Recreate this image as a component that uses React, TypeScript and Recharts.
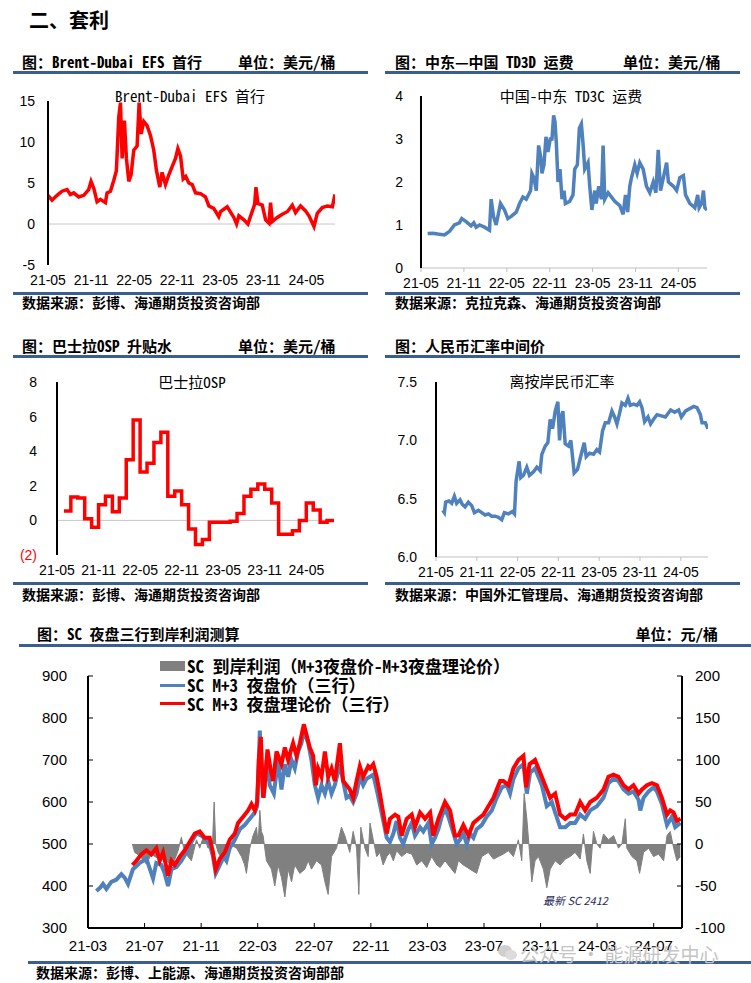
import React from "react";
import { LineChart, Line, XAxis, YAxis, ReferenceLine, ComposedChart, Area } from "recharts";

const HEAD = '"Noto Sans Mono CJK SC", "Noto Sans CJK SC", sans-serif';
const CJK = '"Noto Sans CJK SC", sans-serif';
const NUM = '"Liberation Sans", Arial, sans-serif';
const RULE = "#3A5F8F";
const BLUE = "#4F81BD";
const RED = "#FF0000";
const GRAY = "#808080";

// small charts: x = months since 2021-05
const smallTicks = [0, 6, 12, 18, 24, 30, 36];
const smallTickLabels = ["21-05", "21-11", "22-05", "22-11", "23-05", "23-11", "24-05"];

// big chart: x = months since 2021-03
const bigTicks = [0, 4, 8, 12, 16, 20, 24, 28, 32, 36, 40];
const bigTickLabels = ["21-03", "21-07", "21-11", "22-03", "22-07", "22-11", "23-03", "23-07", "23-11", "24-03", "24-07"];

// Brent-Dubai EFS 首行 (USD/bbl)
const efs: [number, number][] = [
  [0, 3.5], [0.56, 2.9], [1.26, 3.5], [1.95, 4.0], [2.65, 4.2], [3.12, 3.6], [3.58, 3.8], [4.28, 3.3], [4.98, 3.5],
  [5.67, 4.2], [6.0, 5.2], [6.4, 4.3], [6.84, 2.7], [7.3, 3.0], [8.0, 2.6], [8.23, 3.8], [8.7, 4.0], [9.16, 5.3],
  [9.53, 6.5], [9.86, 13], [10.1, 14.8], [10.33, 8], [10.65, 12.6], [10.93, 8], [11.26, 5.2], [11.58, 6], [11.95, 9],
  [12.42, 9.5], [12.7, 14.8], [12.98, 11], [13.35, 12.5], [13.81, 12], [14.28, 10.8], [14.74, 9.0], [15.12, 6.5],
  [15.58, 4.5], [15.9, 6.3], [16.37, 4.8], [16.84, 6.0], [17.3, 7], [17.77, 8], [18.1, 9.2], [18.47, 8.3], [18.84, 5.5],
  [19.2, 5.8], [19.63, 5.0], [20.1, 4.8], [20.56, 3.8], [21.26, 3.7], [21.95, 3.3], [22.42, 2.2], [23.1, 1.9],
  [23.8, 0.9], [24.05, 1.5], [24.98, 2.1], [25.9, 0.8], [26.28, 0], [26.6, 1.0], [27.3, 0.5], [27.86, 0], [28.33, 1.2],
  [28.8, 2.4], [28.98, 4.5], [29.26, 2.5], [29.86, 2.3], [30.33, 0.5], [30.8, 0.1], [31.02, 2.6], [31.26, 0.3],
  [31.95, 0.8], [32.65, 1.2], [33.35, 1.5], [34.05, 2.3], [34.5, 1.4], [35.2, 2.2], [35.9, 1.6], [36.37, 1.0],
  [37.07, -0.3], [37.53, 1.3], [38.23, 2.0], [38.93, 2.2], [39.63, 2.1], [40.0, 3.6],
];

// TD3C freight
const td3c: [number, number][] = [
  [0.93, 0.8], [1.64, 0.81], [2.34, 0.79], [3.27, 0.77], [3.97, 0.85], [4.67, 1.0], [5.37, 1.05], [5.7, 1.15],
  [6.31, 1.08], [7.0, 0.98], [7.38, 1.05], [7.71, 0.95], [8.18, 1.0], [8.88, 0.95], [9.58, 0.88], [9.81, 1.6],
  [10.14, 1.2], [10.51, 1.0], [11.12, 1.5], [11.68, 1.35], [12.15, 1.15], [12.62, 1.2], [13.32, 1.3], [13.79, 1.5],
  [14.25, 1.65], [14.72, 1.6], [15.33, 1.8], [15.51, 2.2], [15.79, 2.1], [16.12, 1.8], [16.45, 2.85], [16.73, 2.6],
  [16.92, 2.2], [17.2, 2.4], [17.48, 3.05], [17.76, 2.7], [18.08, 3.0], [18.32, 3.0], [18.55, 3.55], [18.74, 3.4],
  [18.93, 2.9], [19.16, 2.0], [19.44, 2.3], [19.72, 1.6], [20.0, 1.8], [20.19, 1.5], [20.79, 1.55], [21.26, 1.7],
  [21.5, 2.3], [21.87, 2.4], [22.15, 3.25], [22.43, 3.35], [22.66, 2.9], [22.9, 2.3], [23.36, 2.45], [23.6, 1.9],
  [23.9, 1.35], [24.3, 1.8], [24.5, 1.5], [24.86, 1.9], [25.23, 1.6], [25.47, 2.85], [25.7, 1.6], [26.17, 1.75],
  [26.64, 1.65], [27.1, 1.55], [27.8, 1.45], [28.27, 1.25], [28.6, 1.7], [28.9, 1.3], [29.2, 1.9], [29.44, 2.1],
  [29.9, 2.4], [30.23, 2.2], [30.6, 2.45], [31.07, 2.3], [31.54, 1.9], [32.0, 1.75], [32.48, 2.0], [32.85, 1.75],
  [33.18, 2.75], [33.5, 1.8], [33.9, 2.1], [34.35, 2.45], [34.6, 2.0], [35.3, 1.9], [35.75, 1.8], [36.2, 2.1],
  [36.7, 2.15], [37.0, 1.7], [37.6, 1.5], [38.3, 1.4], [38.7, 1.7], [38.9, 1.4], [39.25, 1.5], [39.5, 1.8],
  [39.7, 1.4], [40.0, 1.35],
];

// Basrah OSP, monthly from 2021-06 (last entry closes the final step)
const osp = [
  0.55, 1.35, 1.3, 0.1, -0.4, 0.9, 1.4, 0.5, 1.3, 3.5, 5.8, 2.8, 3.3, 4.5, 5.1, 1.4, 1.7, 0.9, -0.5, -1.4,
  -1.1, -0.1, -0.1, -0.1, -0.05, 0.4, 1.4, 1.8, 2.1, 1.8, 1.0, -0.8, -0.8, -0.6, 0.0, 1.0, 0.6, -0.1, 0.0, 0.0,
];

// offshore RMB
const cnh: [number, number][] = [
  [1.0, 6.4], [1.23, 6.38], [1.42, 6.47], [1.91, 6.48], [2.31, 6.46], [2.7, 6.52], [3.04, 6.46], [3.53, 6.49],
  [3.88, 6.45], [4.27, 6.43], [4.76, 6.47], [5.25, 6.44], [5.65, 6.38], [6.24, 6.4], [6.73, 6.38], [7.22, 6.36],
  [7.71, 6.37], [8.2, 6.35], [8.69, 6.35], [9.18, 6.34], [9.67, 6.32], [10.06, 6.38], [10.65, 6.37], [11.24, 6.39],
  [11.54, 6.37], [11.78, 6.65], [12.22, 6.82], [12.47, 6.68], [12.86, 6.7], [13.35, 6.77], [13.75, 6.7],
  [14.34, 6.73], [14.83, 6.77], [15.32, 6.74], [15.56, 6.88], [16.06, 6.95], [16.45, 6.98], [16.79, 7.18],
  [17.14, 7.1], [17.53, 7.25], [17.92, 7.33], [18.17, 7.0], [18.41, 7.2], [18.66, 7.25], [19.0, 6.97], [19.49, 6.95],
  [19.83, 7.0], [20.32, 6.72], [20.81, 6.75], [21.31, 6.87], [21.8, 6.98], [22.09, 6.86], [22.58, 6.89],
  [23.17, 6.88], [23.66, 6.92], [24.05, 6.9], [24.49, 7.08], [24.89, 7.15], [25.38, 7.15], [25.87, 7.25],
  [26.26, 7.2], [26.61, 7.14], [26.95, 7.22], [27.34, 7.32], [27.84, 7.3], [28.23, 7.36], [28.57, 7.3],
  [29.06, 7.31], [29.55, 7.3], [29.95, 7.33], [30.29, 7.28], [30.68, 7.16], [31.17, 7.2], [31.56, 7.14],
  [32.0, 7.18], [32.5, 7.22], [33.14, 7.21], [33.73, 7.2], [34.51, 7.26], [35.1, 7.24], [35.69, 7.26], [36.08, 7.2],
  [36.67, 7.25], [37.26, 7.27], [37.9, 7.29], [38.39, 7.28], [38.88, 7.22], [39.12, 7.15], [39.61, 7.15], [40.0, 7.1],
];

// SC M+3 夜盘价 (三行), 元/桶
const scPrice: [number, number][] = [
  [0.59, 388], [0.83, 395], [1.06, 405], [1.3, 393], [1.65, 410], [2.0, 415], [2.36, 428], [2.59, 420], [2.83, 405],
  [3.18, 440], [3.66, 455], [4.13, 465], [4.6, 418], [4.83, 455], [5.19, 450], [5.42, 430], [5.66, 400], [5.9, 440],
  [6.25, 445], [6.6, 460], [6.96, 480], [7.31, 505], [7.67, 525], [8.02, 520], [8.37, 510], [8.6, 500], [8.84, 470],
  [9.03, 430], [9.32, 450], [9.6, 470], [9.79, 460], [10.02, 490], [10.38, 510], [10.73, 535], [11.08, 545],
  [11.44, 560], [11.79, 575], [11.96, 590], [12.15, 770], [12.26, 660], [12.43, 610], [12.62, 700], [12.85, 640],
  [13.14, 620], [13.44, 700], [13.68, 630], [13.92, 690], [14.15, 660], [14.39, 700], [14.62, 680], [14.86, 720],
  [15.09, 740], [15.26, 770], [15.57, 740], [15.8, 700], [16.04, 640], [16.27, 610], [16.51, 640], [16.75, 620],
  [16.98, 650], [17.22, 620], [17.45, 640], [17.81, 690], [18.04, 650], [18.28, 610], [18.51, 615], [18.75, 600],
  [18.99, 620], [19.22, 660], [19.46, 640], [19.69, 655], [19.93, 660], [20.17, 665], [20.41, 630], [20.76, 575],
  [21.12, 515], [21.35, 505], [21.59, 525], [21.82, 555], [22.06, 515], [22.29, 500], [22.65, 535], [22.89, 550],
  [23.12, 520], [23.48, 540], [23.71, 530], [24.07, 550], [24.3, 500], [24.54, 515], [24.77, 535], [25.01, 565],
  [25.24, 585], [25.48, 565], [25.71, 540], [26.07, 500], [26.3, 510], [26.54, 525], [26.78, 500], [27.01, 525],
  [27.25, 515], [27.48, 535], [27.84, 545], [28.19, 565], [28.55, 580], [28.9, 610], [29.26, 635], [29.61, 640],
  [29.84, 620], [30.08, 655], [30.43, 680], [30.79, 690], [31.03, 620], [31.26, 670], [31.61, 680], [31.85, 660],
  [32.09, 640], [32.44, 590], [32.79, 600], [33.03, 575], [33.38, 540], [33.74, 540], [34.09, 550], [34.44, 550],
  [34.8, 570], [35.15, 560], [35.51, 580], [35.98, 590], [36.45, 610], [36.8, 645], [37.16, 655], [37.51, 650],
  [37.87, 630], [38.22, 620], [38.57, 625], [38.93, 605], [39.05, 580], [39.28, 610], [39.64, 625], [39.99, 635],
  [40.23, 625], [40.58, 595], [40.94, 545], [41.29, 565], [41.52, 540], [41.9, 550],
];

// SC M+3 夜盘理论价 (三行)
const scTheory: [number, number][] = [
  [3.14, 450], [3.42, 460], [3.77, 475], [4.13, 485], [4.48, 475], [4.83, 490], [5.07, 460], [5.31, 480], [5.54, 445],
  [5.66, 425], [5.9, 460], [6.13, 450], [6.49, 470], [6.84, 485], [7.19, 505], [7.55, 525], [7.9, 530], [8.25, 515],
  [8.6, 515], [8.84, 480], [9.03, 440], [9.32, 465], [9.67, 480], [10.02, 510], [10.38, 525], [10.61, 550],
  [10.97, 565], [11.32, 580], [11.56, 595], [11.79, 580], [11.96, 600], [12.08, 700], [12.22, 755], [12.38, 610],
  [12.5, 640], [12.69, 725], [12.9, 680], [13.09, 650], [13.33, 720], [13.68, 690], [13.92, 730], [14.15, 700],
  [14.5, 740], [14.74, 710], [14.98, 740], [15.26, 785], [15.45, 760], [15.68, 730], [15.92, 710], [16.11, 640],
  [16.27, 680], [16.51, 660], [16.75, 720], [16.98, 660], [17.22, 680], [17.45, 650], [17.81, 740], [18.04, 650],
  [18.28, 640], [18.51, 630], [18.75, 610], [18.99, 650], [19.22, 685], [19.46, 660], [19.81, 685], [19.94, 680],
  [20.17, 690], [20.41, 660], [20.64, 620], [21.12, 525], [21.35, 560], [21.71, 570], [21.94, 565], [22.18, 520],
  [22.53, 560], [22.89, 570], [23.12, 540], [23.48, 575], [23.83, 560], [24.19, 575], [24.42, 520], [24.77, 560],
  [25.24, 600], [25.6, 580], [25.95, 520], [26.19, 520], [26.54, 545], [26.9, 520], [27.25, 550], [27.6, 560],
  [27.96, 570], [28.31, 590], [28.67, 610], [29.14, 650], [29.37, 650], [29.73, 640], [30.08, 680], [30.43, 700],
  [30.79, 710], [30.98, 635], [31.22, 690], [31.61, 700], [31.97, 670], [32.32, 640], [32.68, 610], [33.03, 620],
  [33.38, 570], [33.74, 560], [34.09, 570], [34.44, 570], [34.8, 600], [35.15, 580], [35.51, 600], [35.98, 610],
  [36.45, 630], [36.8, 660], [37.16, 665], [37.51, 660], [37.87, 640], [38.22, 630], [38.57, 640], [38.93, 620],
  [39.17, 630], [39.52, 640], [39.87, 645], [40.23, 640], [40.58, 610], [40.94, 570], [41.17, 580], [41.41, 575],
  [41.64, 555], [41.9, 560],
];

// SC 到岸利润 (right axis)
const scProfit: [number, number][] = [
  [3.14, 0], [3.3, -10], [3.66, -14], [4.13, -24], [4.48, -12], [4.83, -16], [5.31, -10], [5.66, -22], [6.01, -24],
  [6.37, -8], [6.6, 8], [6.84, -10], [7.31, -20], [7.67, 5], [7.9, -5], [8.18, 10], [8.49, -5], [8.8, 0], [8.92, 50],
  [9.03, 0], [9.2, -10], [9.55, -20], [10.02, 0], [10.5, -5], [10.85, -15], [11.08, -25], [11.2, -35], [11.44, -5],
  [11.67, 10], [11.91, 20], [12.03, 0], [12.15, 40], [12.26, 15], [12.38, 10], [12.62, -20], [12.97, -30],
  [13.21, -50], [13.44, -25], [13.68, -40], [13.92, -63], [14.15, -30], [14.39, -45], [14.62, -25], [14.98, -35],
  [15.33, -30], [15.57, -20], [15.8, -30], [16.16, -20], [16.51, -25], [16.75, -45], [16.98, -60], [17.22, -15],
  [17.57, -5], [17.92, 20], [18.16, 10], [18.51, -10], [18.75, 15], [18.99, -5], [19.15, -60], [19.29, 20],
  [19.58, -5], [19.81, -15], [19.94, 25], [20.17, 5], [20.41, -15], [20.64, -10], [20.87, -25], [21.12, -15],
  [21.35, -10], [21.59, -20], [21.82, -8], [22.18, -15], [22.53, -10], [22.89, -12], [23.24, -25], [23.6, -20],
  [23.95, -28], [24.3, -15], [24.66, -25], [24.9, -28], [25.24, -20], [25.71, -30], [25.95, -35], [26.19, -20],
  [26.54, -25], [27.01, -30], [27.48, -35], [27.84, -15], [28.31, -10], [28.67, -18], [29.02, -15], [29.37, -12],
  [29.73, -8], [30.08, -15], [30.43, 5], [30.67, -20], [30.84, 60], [31.03, 30], [31.22, -10], [31.38, -45],
  [31.61, -20], [31.85, -15], [32.2, -30], [32.44, -52], [32.68, -30], [33.03, -20], [33.38, -25], [33.74, -18],
  [34.09, -15], [34.44, -10], [34.8, -18], [35.03, 12], [35.27, -20], [35.51, -35], [35.74, 15], [35.98, 0],
  [36.21, -5], [36.45, 12], [36.8, 5], [37.16, 10], [37.51, -5], [37.75, 0], [37.99, 30], [38.1, -5], [38.46, -15],
  [38.81, -20], [39.0, -35], [39.28, -10], [39.64, -5], [39.99, -15], [40.34, -12], [40.7, -20], [40.94, 10],
  [41.17, 15], [41.41, -5], [41.64, -20], [41.88, -15],
];

const rows = (pts: [number, number][]) => pts.map(([t, v]) => ({ t, v }));

function Txt({ x, y, size, children, color = "#000", bold = false, font = CJK, anchor = "start", italic = false }: any) {
  const tf = anchor === "middle" ? "translateX(-50%)" : anchor === "end" ? "translateX(-100%)" : undefined;
  return (
    <div style={{ position: "absolute", left: x, top: y - size * 0.7, height: size * 1.4, lineHeight: `${size * 1.4}px`, fontSize: size, fontFamily: font, fontWeight: bold ? 700 : 400, fontStyle: italic ? "italic" : "normal", color, whiteSpace: "nowrap", transform: tf }}>
      {children}
    </div>
  );
}

function Rule({ x, y, w }: { x: number; y: number; w: number }) {
  return <div style={{ position: "absolute", left: x, top: y - 1.5, width: w, height: 3, background: RULE }} />;
}

function SmallChart({ left, top, width, height, plotLeft, plotTop, plotRight, data, yDomain, yTicks, color, step, zeroLine, grayAxis, labelGap, yFmt, redNeg }: any) {
  const yTick = (p: any) => {
    const v = p.payload.value;
    return (
      <text x={p.x} y={p.y} dy="0.36em" textAnchor="end" fontSize={14} fontFamily={NUM} fill={redNeg && v < 0 ? RED : "#000"}>
        {yFmt ? yFmt(v) : v}
      </text>
    );
  };
  return (
    <div style={{ position: "absolute", left, top }}>
      <LineChart width={width} height={height} margin={{ top: plotTop, right: width - plotRight, left: 0, bottom: 0 }}>
        <XAxis type="number" dataKey="t" domain={[0, 40]} ticks={smallTicks} interval={0} allowDataOverflow
          tickFormatter={(v: number) => smallTickLabels[smallTicks.indexOf(v)]}
          axisLine={grayAxis ? { stroke: "#bfbfbf" } : false} tickLine={grayAxis ? { stroke: "#bfbfbf" } : false}
          tickSize={4} tickMargin={6} height={30} tick={{ fontSize: 14, fill: "#000", fontFamily: NUM }} />
        <YAxis type="number" domain={yDomain} ticks={yTicks} interval={0} allowDataOverflow width={plotLeft}
          axisLine={{ stroke: "#000", strokeWidth: 2 }} tickLine={false} tickSize={0} tickMargin={labelGap} tick={yTick} />
        {zeroLine && <ReferenceLine y={0} stroke="#c8c8c8" />}
        <Line data={data} type={step ? "stepAfter" : "linear"} dataKey="v" stroke={color} strokeWidth={3.5} dot={false} isAnimationActive={false} />
      </LineChart>
    </div>
  );
}

export default function App() {
  const ospRows = osp.map((v, i) => ({ t: i + 1, v }));
  return (
    <div style={{ position: "absolute", left: 0, top: 0, width: 751, height: 983, background: "#fff", overflow: "hidden" }}>
      <Txt x={29} y={20} size={20} bold>二、套利</Txt>

      {/* top left */}
      <Txt x={22} y={61} size={15} bold font={HEAD}>图：Brent-Dubai EFS 首行</Txt>
      <Txt x={238} y={61} size={15} bold font={HEAD}>单位：美元/桶</Txt>
      <Rule x={13} y={72} w={355} />
      <SmallChart left={0} top={80} width={375} height={215} plotLeft={48} plotTop={21} plotRight={335}
        data={rows(efs)} yDomain={[-5, 15]} yTicks={[-5, 0, 5, 10, 15]} color={RED} zeroLine labelGap={13} />
      <Txt x={190} y={95} size={15} anchor="middle" font={HEAD}>Brent-Dubai EFS 首行</Txt>
      <Rule x={13} y={293} w={355} />
      <Txt x={22} y={303} size={14} bold>数据来源：彭博、海通期货投资咨询部</Txt>

      {/* top right */}
      <Txt x={395} y={61} size={15} bold font={HEAD}>图：中东—中国 TD3D 运费</Txt>
      <Txt x={623} y={61} size={15} bold font={HEAD}>单位：美元/桶</Txt>
      <Rule x={385} y={72} w={355} />
      <SmallChart left={375} top={80} width={376} height={218} plotLeft={46} plotTop={16} plotRight={332}
        data={rows(td3c)} yDomain={[0, 4]} yTicks={[0, 1, 2, 3, 4]} color={BLUE} grayAxis labelGap={18} />
      <Txt x={571} y={95} size={15} anchor="middle" font={HEAD}>中国-中东 TD3C 运费</Txt>
      <Rule x={385} y={293} w={355} />
      <Txt x={395} y={303} size={14} bold>数据来源：克拉克森、海通期货投资咨询部</Txt>

      {/* middle left */}
      <Txt x={22} y={345} size={15} bold font={HEAD}>图：巴士拉OSP 升贴水</Txt>
      <Txt x={238} y={345} size={15} bold font={HEAD}>单位：美元/桶</Txt>
      <Rule x={13} y={356} w={355} />
      <SmallChart left={0} top={360} width={375} height={225} plotLeft={57} plotTop={22} plotRight={334}
        data={ospRows} yDomain={[-2, 8]} yTicks={[-2, 0, 2, 4, 6, 8]} color={RED} step zeroLine labelGap={20}
        redNeg yFmt={(v: number) => (v < 0 ? `(${-v})` : `${v}`)} />
      <Txt x={192} y={381} size={15} anchor="middle" font={HEAD}>巴士拉OSP</Txt>
      <Rule x={13} y={583} w={355} />
      <Txt x={22} y={595} size={14} bold>数据来源：彭博、海通期货投资咨询部</Txt>

      {/* middle right */}
      <Txt x={395} y={345} size={15} bold font={HEAD}>图：人民币汇率中间价</Txt>
      <Rule x={385} y={356} w={355} />
      <SmallChart left={375} top={360} width={376} height={227} plotLeft={61} plotTop={22} plotRight={333}
        data={rows(cnh)} yDomain={[6, 7.5]} yTicks={[6, 6.5, 7, 7.5]} color={BLUE} grayAxis labelGap={19}
        yFmt={(v: number) => v.toFixed(1)} />
      <Txt x={562} y={380} size={15} anchor="middle" font={HEAD}>离按岸民币汇率</Txt>
      <Rule x={385} y={583} w={355} />
      <Txt x={395} y={595} size={14} bold>数据来源：中国外汇管理局、海通期货投资咨询部</Txt>

      {/* bottom */}
      <Txt x={37} y={633} size={15} bold font={HEAD}>图：SC 夜盘三行到岸利润测算</Txt>
      <Txt x={718} y={633} size={15} bold font={HEAD} anchor="end">单位：元/桶</Txt>
      <Rule x={19} y={645} w={732} />
      <div style={{ position: "absolute", left: 0, top: 650 }}>
        <ComposedChart width={751} height={308} margin={{ top: 26, right: 0, left: 0, bottom: 0 }}>
          <XAxis type="number" dataKey="t" domain={[0, 42]} ticks={bigTicks} interval={0} allowDataOverflow
            tickFormatter={(v: number) => bigTickLabels[bigTicks.indexOf(v)]}
            axisLine={{ stroke: "#000", strokeWidth: 2 }} tickLine={{ stroke: "#000" }} tickSize={-5} tickMargin={17}
            height={30} tick={{ fontSize: 15, fill: "#000", fontFamily: NUM }} />
          <YAxis yAxisId="left" type="number" domain={[300, 900]} ticks={[300, 400, 500, 600, 700, 800, 900]} interval={0}
            width={88} axisLine={{ stroke: "#000", strokeWidth: 2 }} tickLine={{ stroke: "#000" }} tickSize={-5} tickMargin={26}
            tick={{ fontSize: 15, fill: "#000", fontFamily: NUM }} />
          <YAxis yAxisId="right" orientation="right" type="number" domain={[-100, 200]} ticks={[-100, -50, 0, 50, 100, 150, 200]}
            interval={0} width={69} axisLine={{ stroke: "#000", strokeWidth: 2 }} tickLine={{ stroke: "#000" }} tickSize={-5}
            tickMargin={18} tick={{ fontSize: 15, fill: "#000", fontFamily: NUM }} />
          <Area yAxisId="right" data={rows(scProfit)} dataKey="v" type="linear" baseValue={0} stroke={GRAY} strokeWidth={1}
            fill={GRAY} fillOpacity={1} isAnimationActive={false} />
          <Line yAxisId="left" data={rows(scPrice)} dataKey="v" type="linear" stroke={BLUE} strokeWidth={4} dot={false} isAnimationActive={false} />
          <Line yAxisId="left" data={rows(scTheory)} dataKey="v" type="linear" stroke={RED} strokeWidth={4} dot={false} isAnimationActive={false} />
        </ComposedChart>
      </div>

      {/* legend */}
      <div style={{ position: "absolute", left: 160, top: 661, width: 25, height: 10, background: GRAY }} />
      <Txt x={187} y={666} size={17} bold font={HEAD}>SC 到岸利润（M+3夜盘价-M+3夜盘理论价）</Txt>
      <div style={{ position: "absolute", left: 160, top: 683.5, width: 25, height: 3, background: BLUE }} />
      <Txt x={187} y={685} size={17} bold font={HEAD}>SC M+3 夜盘价（三行）</Txt>
      <div style={{ position: "absolute", left: 160, top: 702, width: 25, height: 3, background: RED }} />
      <Txt x={187} y={704} size={17} bold font={HEAD}>SC M+3 夜盘理论价（三行）</Txt>

      <Txt x={543} y={901} size={11} italic color="#1F2A56">最新 SC 2412</Txt>

      <Rule x={28} y={962} w={723} />
      <Txt x={36} y={973} size={14} bold>数据来源：彭博、上能源、海通期货投资咨询部部</Txt>

      {/* watermark */}
      <svg style={{ position: "absolute", left: 498, top: 944 }} width={20} height={18}>
        <ellipse cx={7} cy={7} rx={7} ry={6} fill="#cfcfcf" />
        <ellipse cx={13} cy={11} rx={6} ry={5} fill="#dcdcdc" />
      </svg>
      <Txt x={520} y={954} size={19} color="#c4c4c4">公众号 · 能源研发中心</Txt>
    </div>
  );
}
